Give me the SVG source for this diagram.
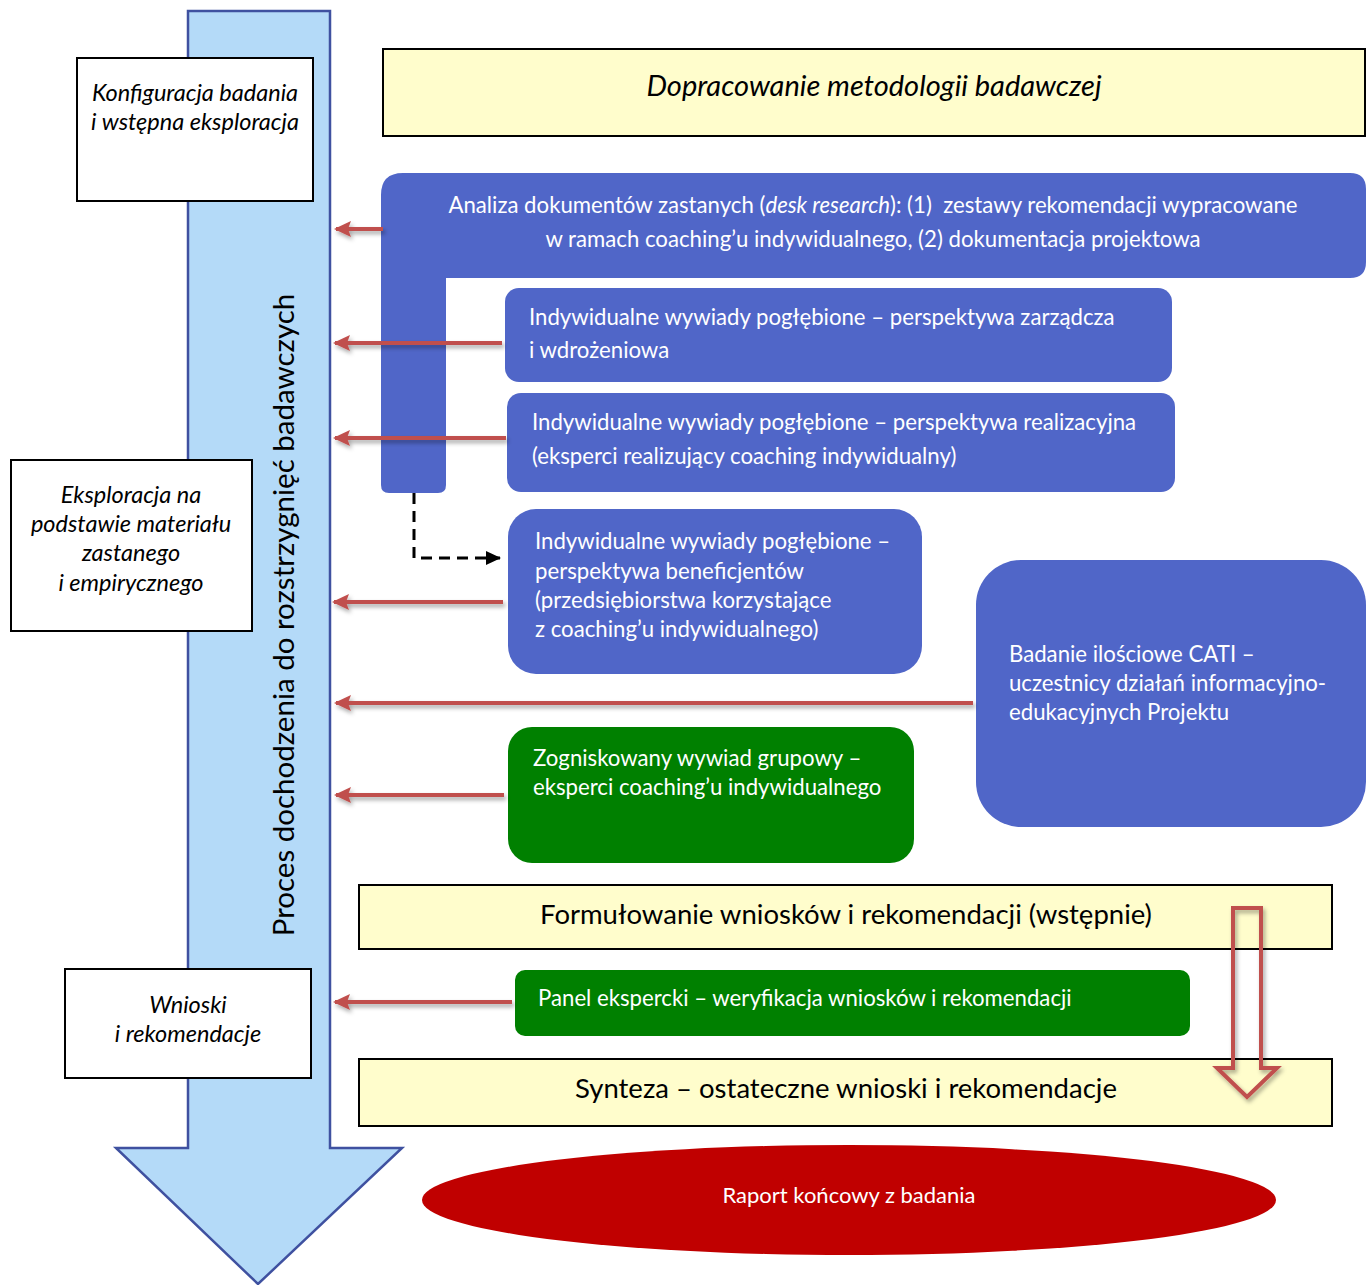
<svg xmlns="http://www.w3.org/2000/svg" width="1368" height="1285" viewBox="0 0 1368 1285">
<style>
.lbl{font-family:Lato,"Liberation Sans",sans-serif;}
.w{fill:#fff;font-size:22.2px;}
.it{font-style:italic;fill:#000;font-size:23.5px;}
.blue{fill:#5066C8;}
.green{fill:#008000;}
.yel{fill:#FFFDCC;stroke:#000;stroke-width:2;}
.wbox{fill:#fff;stroke:#000;stroke-width:2;}
.red{stroke:#C0504D;stroke-width:4;fill:none;}
</style>
<defs>
<filter id="sh" x="-20%" y="-50%" width="140%" height="200%">
<feDropShadow dx="2" dy="3" stdDeviation="2" flood-color="#000" flood-opacity="0.35"/>
</filter>
<marker id="rh" markerUnits="userSpaceOnUse" markerWidth="18" markerHeight="18" viewBox="0 0 18 18" refX="15" refY="9" orient="auto">
<path d="M17,9 L0,1 L3,9 L0,17 Z" fill="#C0504D"/>
</marker>
<marker id="bh" markerUnits="userSpaceOnUse" markerWidth="16" markerHeight="16" viewBox="0 0 16 16" refX="14" refY="8" orient="auto">
<path d="M0,1 L15,8 L0,15 Z" fill="#000"/>
</marker>
</defs>

<g id="process-arrow">
<path d="M188,11 H330 V1148 H402 L258,1284 L116,1148 H188 Z" fill="#B4DAF8" stroke="#3F51A0" stroke-width="2.5"/>
<text class="lbl" transform="translate(294,615) rotate(-90)" text-anchor="middle" font-size="29.5" fill="#000">Proces dochodzenia do rozstrzygnięć badawczych</text>
</g>

<g id="n-konfiguracja">
<rect class="wbox" x="77" y="58" width="236" height="143"/>
<text class="lbl it" x="195" y="101" text-anchor="middle">Konfiguracja badania</text>
<text class="lbl it" x="195" y="130" text-anchor="middle">i wstępna eksploracja</text>
</g>

<g id="n-eksploracja">
<rect class="wbox" x="11" y="460" width="241" height="171"/>
<text class="lbl it" x="131" y="503" text-anchor="middle">Eksploracja na</text>
<text class="lbl it" x="131" y="532" text-anchor="middle">podstawie materiału</text>
<text class="lbl it" x="131" y="561" text-anchor="middle">zastanego</text>
<text class="lbl it" x="131" y="591" text-anchor="middle">i empirycznego</text>
</g>

<g id="n-wnioski">
<rect class="wbox" x="65" y="969" width="246" height="109"/>
<text class="lbl it" x="188" y="1013" text-anchor="middle">Wnioski</text>
<text class="lbl it" x="188" y="1042" text-anchor="middle">i rekomendacje</text>
</g>

<g id="n-metodologia">
<rect class="yel" x="383" y="49" width="982" height="87"/>
<text class="lbl" x="874" y="96" text-anchor="middle" font-size="29" font-style="italic" fill="#000">Dopracowanie metodologii badawczej</text>
</g>

<g id="n-analiza">
<path class="blue" d="M403,173 H1350 Q1366,173 1366,189 V262 Q1366,278 1350,278 H446 V485 Q446,493 438,493 H389 Q381,493 381,485 V195 Q381,173 403,173 Z"/>
<text class="lbl w" x="873" y="213" text-anchor="middle">Analiza dokumentów zastanych (<tspan font-style="italic">desk research</tspan>): (1)&#160; zestawy rekomendacji wypracowane</text>
<text class="lbl w" x="873" y="247" text-anchor="middle">w ramach coaching’u indywidualnego, (2) dokumentacja projektowa</text>
</g>

<g id="n-zarzadcza">
<rect class="blue" x="505" y="288" width="667" height="94" rx="14"/>
<text class="lbl w" x="529" y="325">Indywidualne wywiady pogłębione – perspektywa zarządcza</text>
<text class="lbl w" x="529" y="358">i wdrożeniowa</text>
</g>

<g id="n-realizacyjna">
<rect class="blue" x="507" y="393" width="668" height="99" rx="14"/>
<text class="lbl w" x="532" y="430">Indywidualne wywiady pogłębione – perspektywa realizacyjna</text>
<text class="lbl w" x="532" y="464">(eksperci realizujący coaching indywidualny)</text>
</g>

<g id="n-beneficjenci">
<rect class="blue" x="508" y="509" width="414" height="165" rx="28"/>
<text class="lbl w" x="535" y="549">Indywidualne wywiady pogłębione –</text>
<text class="lbl w" x="535" y="579">perspektywa beneficjentów</text>
<text class="lbl w" x="535" y="608">(przedsiębiorstwa korzystające</text>
<text class="lbl w" x="535" y="637">z coaching’u indywidualnego)</text>
</g>

<g id="n-cati">
<rect class="blue" x="976" y="560" width="390" height="267" rx="45"/>
<text class="lbl w" x="1009" y="662">Badanie ilościowe CATI –</text>
<text class="lbl w" x="1009" y="691">uczestnicy działań informacyjno-</text>
<text class="lbl w" x="1009" y="720">edukacyjnych Projektu</text>
</g>

<g id="n-fokus">
<rect class="green" x="508" y="727" width="406" height="136" rx="24"/>
<text class="lbl w" x="533" y="766">Zogniskowany wywiad grupowy –</text>
<text class="lbl w" x="533" y="795">eksperci coaching’u indywidualnego</text>
</g>

<g id="n-formulowanie">
<rect class="yel" x="359" y="885" width="973" height="64"/>
<text class="lbl" x="846" y="924" text-anchor="middle" font-size="27.5" fill="#000">Formułowanie wniosków i rekomendacji (wstępnie)</text>
</g>

<g id="n-panel">
<rect class="green" x="515" y="970" width="675" height="66" rx="10"/>
<text class="lbl w" x="538" y="1006">Panel ekspercki – weryfikacja wniosków i rekomendacji</text>
</g>

<g id="n-synteza">
<rect class="yel" x="359" y="1059" width="973" height="67"/>
<text class="lbl" x="846" y="1098" text-anchor="middle" font-size="27.5" fill="#000">Synteza – ostateczne wnioski i rekomendacje</text>
</g>

<g id="n-raport">
<ellipse cx="849" cy="1200" rx="427" ry="55" fill="#C00000"/>
<text class="lbl" x="849" y="1203" text-anchor="middle" font-size="22" fill="#fff">Raport końcowy z badania</text>
</g>

<g id="connectors">
<g filter="url(#sh)">
<line class="red" x1="383" y1="229" x2="336" y2="229" marker-end="url(#rh)"/>
<line class="red" x1="502" y1="343" x2="335" y2="343" marker-end="url(#rh)"/>
<line class="red" x1="506" y1="438" x2="335" y2="438" marker-end="url(#rh)"/>
<line class="red" x1="503" y1="602" x2="334" y2="602" marker-end="url(#rh)"/>
<line class="red" x1="973" y1="703" x2="336" y2="703" marker-end="url(#rh)"/>
<line class="red" x1="504" y1="795" x2="336" y2="795" marker-end="url(#rh)"/>
<line class="red" x1="512" y1="1002" x2="335" y2="1002" marker-end="url(#rh)"/>
<path d="M1233,908 H1261 V1068 H1277 L1247,1097 L1217,1068 H1233 Z" fill="none" stroke="#C0504D" stroke-width="4"/>
</g>
<path d="M414,493 V558 H500" fill="none" stroke="#000" stroke-width="3" stroke-dasharray="11,7" marker-end="url(#bh)"/>
</g>
</svg>
